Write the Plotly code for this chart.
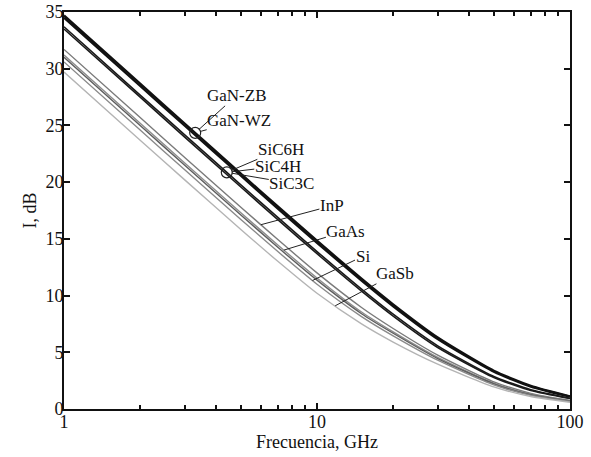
import numpy as np
import plotly.graph_objects as go

# Frequency sample points (GHz)
freq = [1, 2, 3, 5, 7, 10, 15, 20, 30, 50, 70, 100]

# Values (dB)
gan_zb = [34.70, 28.68, 25.17, 20.75, 17.86, 14.84, 11.49, 9.23, 6.31, 3.38, 2.05, 1.12]
gan_wz = [34.50, 28.48, 24.97, 20.56, 17.67, 14.65, 11.31, 9.05, 6.16, 3.28, 1.97, 1.08]
sic6h = [33.70, 27.68, 24.17, 19.76, 16.89, 13.88, 10.57, 8.36, 5.57, 2.87, 1.70, 0.95]
sic4h = [33.50, 27.49, 23.97, 19.57, 16.69, 13.69, 10.39, 8.19, 5.42, 2.78, 1.63, 0.92]
sic3c = [31.70, 25.69, 22.18, 17.79, 14.94, 12.00, 8.95, 7.10, 4.75, 2.40, 1.38, 0.75]
inp = [31.20, 25.19, 21.69, 17.30, 14.46, 11.55, 8.55, 6.80, 4.55, 2.28, 1.30, 0.72]
gaas = [31.00, 24.99, 21.49, 17.11, 14.26, 11.36, 8.40, 6.68, 4.45, 2.22, 1.26, 0.70]
si = [30.60, 24.59, 21.09, 16.71, 13.88, 11.00, 8.15, 6.45, 4.30, 2.12, 1.20, 0.66]
gasb = [29.70, 23.70, 20.20, 15.83, 13.02, 10.20, 7.50, 5.90, 3.95, 1.95, 1.10, 0.60]

names = ["GaN-ZB", "GaN-WZ", "SiC6H", "SiC4H", "SiC3C", "InP", "GaAs", "Si", "GaSb"]
series = [gan_zb, gan_wz, sic6h, sic4h, sic3c, inp, gaas, si, gasb]
colors = ["#111111", "#111111", "#1a1a1a", "#1a1a1a", "#7a7a7a", "#8c8c8c", "#5e5e5e", "#8a8a8a", "#b4b4b4"]
widths = [2.2, 2.2, 1.6, 1.6, 1.4, 1.4, 1.4, 1.4, 1.4]

# label anchor: which curve the leader touches, at which frequency, and text offsets (px)
label_curve = [0, 0, 2, 2, 2, 4, 5, 7, 8]
label_f = [3.3, 3.3, 4.4, 4.4, 4.4, 6.0, 7.4, 9.6, 11.8]
label_ax = [41, 44, 54, 51, 65, 71, 62, 50, 60]
label_ay = [-37, -12, -23, -6, 11, -19, -19, -24, -32]
circle_labels = [0, 2]

fig = go.Figure()
for n, s, c, w in zip(names, series, colors, widths):
    fig.add_trace(go.Scatter(x=freq, y=s, mode="lines", name=n,
                             line=dict(color=c, width=w, shape="spline", smoothing=0.6),
                             showlegend=False, hoverinfo="skip"))

def interp_on(s, f):
    return float(np.interp(np.log10(f), np.log10(freq), s))

fig.add_trace(go.Scatter(
    x=[label_f[i] for i in circle_labels],
    y=[interp_on(series[label_curve[i]], label_f[i]) for i in circle_labels],
    mode="markers",
    marker=dict(symbol="circle-open", size=11, color="#222222", line=dict(width=1.2)),
    showlegend=False, hoverinfo="skip"))

for i, n in enumerate(names):
    fig.add_annotation(
        x=np.log10(label_f[i]), y=interp_on(series[label_curve[i]], label_f[i]),
        xref="x", yref="y", text=n, showarrow=True, arrowhead=0,
        arrowwidth=1, arrowcolor="#222222",
        ax=label_ax[i], ay=label_ay[i], borderpad=0,
        standoff=5 if i < 5 else 0,
        font=dict(family="Liberation Serif", size=17, color="#111111"))

fig.update_layout(
    width=591, height=457,
    margin=dict(l=64, r=21, t=12, b=48),
    paper_bgcolor="white", plot_bgcolor="white",
    font=dict(family="Liberation Serif", size=18, color="#111111"),
)
fig.update_xaxes(
    type="log", range=[0, 2], tickvals=[1, 10, 100], ticktext=["1", "10", "100"],
    ticks="inside", ticklen=6, tickwidth=1.5, tickcolor="#111111",
    showline=True, linecolor="#111111", linewidth=2, mirror="allticks",
    showgrid=False, zeroline=False, automargin=False, ticklabelstandoff=-5,
    minor=dict(tickvals=[2, 3, 4, 5, 6, 7, 8, 9, 20, 30, 40, 50, 60, 70, 80, 90],
               ticks="inside", ticklen=4, tickwidth=1.5, tickcolor="#111111", showgrid=False),
    title=dict(text="Frecuencia, GHz", font=dict(size=18), standoff=0),
)
fig.update_yaxes(
    range=[0, 35], tickvals=[0, 5, 10, 15, 20, 25, 30, 35],
    ticks="inside", ticklen=6, tickwidth=1.5, tickcolor="#111111",
    showline=True, linecolor="#111111", linewidth=2, mirror="allticks",
    showgrid=False, zeroline=False, automargin=False, ticklabelstandoff=-5,
    title=dict(text="I, dB", font=dict(size=18), standoff=4),
)

fig.write_html("out.html", config={"displayModeBar": False},
               post_script="document.body.style.margin='0';")
